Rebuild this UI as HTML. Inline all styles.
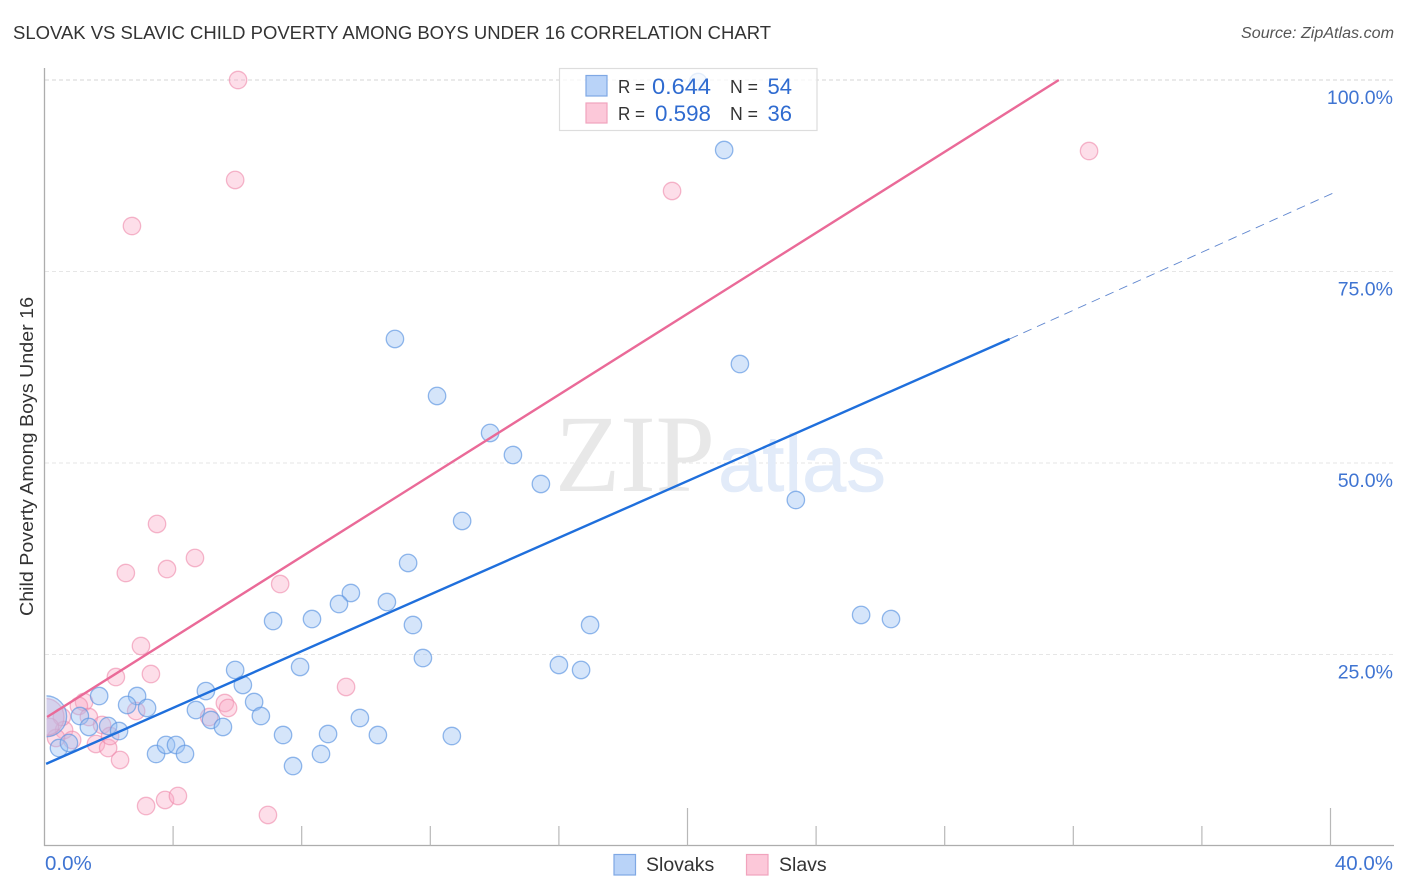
<!DOCTYPE html>
<html>
<head>
<meta charset="utf-8">
<title>Slovak vs Slavic Child Poverty Among Boys Under 16 Correlation Chart</title>
<style>
html,body{margin:0;padding:0;background:#fff;}
svg{display:block;font-family:"Liberation Sans",sans-serif;}
</style>
</head>
<body>
<svg id="chart" xmlns="http://www.w3.org/2000/svg" width="1406" height="892" viewBox="0 0 1406 892">
  <defs>
    <clipPath id="plot-clip"><rect x="45" y="68" width="1349" height="778"/></clipPath>
  </defs>
  <rect x="0" y="0" width="1406" height="892" fill="#fff"/>
  <text x="13" y="39" font-size="18.5" fill="#333" textLength="758" lengthAdjust="spacingAndGlyphs">SLOVAK VS SLAVIC CHILD POVERTY AMONG BOYS UNDER 16 CORRELATION CHART</text>
  <text x="1241" y="38" font-size="15.5" font-style="italic" fill="#555" textLength="153" lengthAdjust="spacingAndGlyphs">Source: ZipAtlas.com</text>
  <text transform="translate(33,616) rotate(-90)" font-size="18.5" fill="#333" textLength="319" lengthAdjust="spacingAndGlyphs">Child Poverty Among Boys Under 16</text>

  <g id="grid"></g>

  <g>
    <text x="555" y="491" font-family="'Liberation Serif',serif" font-size="110" fill="#e8e8e8" textLength="160" lengthAdjust="spacingAndGlyphs">ZIP</text>
    <text x="718" y="491" font-family="'Liberation Sans',sans-serif" font-size="80" fill="#e2ebf9" stroke="#e2ebf9" stroke-width="0.6" textLength="168" lengthAdjust="spacingAndGlyphs">atlas</text>
  </g>

  <g id="points" clip-path="url(#plot-clip)"></g>
  <rect x="0" y="680" width="46.5" height="75" fill="#fff"/>
  <g id="trends"></g>
  <g id="axes"></g>
  <g id="tick-labels"></g>

  <g>
    <rect x="559.5" y="68.5" width="257.5" height="62" fill="#fff" fill-opacity="0.76" stroke="#ddd" stroke-width="1.2"/>
    <rect x="586" y="75.5" width="21" height="20.5" fill="#b9d3f8" stroke="#7fa8e4" stroke-width="1.2"/>
    <rect x="586" y="103" width="21" height="20" fill="#fcc8d9" stroke="#f1a3bd" stroke-width="1.2"/>
    <text x="618" y="93" font-size="18" fill="#333" textLength="27" lengthAdjust="spacingAndGlyphs">R =</text>
    <text x="652" y="94" font-size="22" fill="#2f6bd0" textLength="59" lengthAdjust="spacingAndGlyphs">0.644</text>
    <text x="730" y="93" font-size="18" fill="#333" textLength="28" lengthAdjust="spacingAndGlyphs">N =</text>
    <text x="792" y="94" font-size="22" fill="#2f6bd0" text-anchor="end">54</text>
    <text x="618" y="120" font-size="18" fill="#333" textLength="27" lengthAdjust="spacingAndGlyphs">R =</text>
    <text x="655" y="121" font-size="22" fill="#2f6bd0" textLength="56" lengthAdjust="spacingAndGlyphs">0.598</text>
    <text x="730" y="120" font-size="18" fill="#333" textLength="28" lengthAdjust="spacingAndGlyphs">N =</text>
    <text x="792" y="121" font-size="22" fill="#2f6bd0" text-anchor="end">36</text>
  </g>

  <g>
    <rect x="614" y="854.5" width="21.5" height="20.5" fill="#b9d3f8" stroke="#7fa8e4" stroke-width="1.2"/>
    <text x="646" y="871" font-size="19.5" fill="#333">Slovaks</text>
    <rect x="746.5" y="854.5" width="21.5" height="20.5" fill="#fcc8d9" stroke="#f1a3bd" stroke-width="1.2"/>
    <text x="779" y="871" font-size="19.5" fill="#333">Slavs</text>
  </g>
</svg>
<script>
const slovakX = [10.90,12.21,13.86,14.57,15.44,12.99,11.31,9.53,9.16,10.65,8.32,7.11,11.46,11.77,7.95,5.93,6.17,5.02,2.88,1.70,2.57,3.19,4.71,6.52,6.73,5.18,5.55,1.10,1.38,1.98,2.32,7.42,8.82,9.81,10.37,12.67,8.60,7.73,3.47,3.78,4.09,4.37,0.45,0.76,21.14,20.33,21.63,23.37,25.40,26.33,16.97,16.00,16.69,0.05];
const slovakY = [66.19,58.75,53.92,51.04,47.26,42.43,36.95,33.03,31.59,31.85,29.63,29.37,28.85,24.54,23.37,22.98,21.02,20.23,19.58,19.58,18.41,18.02,17.75,18.80,16.97,16.45,15.54,16.97,15.54,15.67,15.01,14.49,14.62,16.71,14.49,14.36,12.01,10.44,12.01,13.19,13.19,12.01,12.79,13.45,90.86,99.74,62.92,45.17,30.16,29.63,28.85,23.63,22.98,16.93];

const slavX = [6.02,5.93,2.72,19.52,32.49,3.50,3.81,4.68,2.53,7.33,3.00,3.31,2.22,9.38,1.23,5.61,5.71,5.12,2.85,1.07,1.38,1.79,0.61,0.86,1.60,1.98,2.04,0.36,2.35,3.16,3.75,4.15,6.95,0.54,0.17,0.03];
const slavY = [100.00,86.95,80.94,85.51,90.73,42.04,36.16,37.60,35.64,34.20,26.11,22.45,22.06,20.76,18.80,18.67,18.02,16.84,17.62,18.28,16.84,15.80,15.14,13.84,13.32,12.79,14.36,14.10,11.23,5.22,6.01,6.53,4.05,16.84,15.54,16.84];

const slovakTrendX = [0.05,30.02];
const slovakTrendY = [10.72,66.19];
const slovakForecastX = [30.02,40.06];
const slovakForecastY = [66.19,85.20];
const slavTrendX = [0.08,31.55];
const slavTrendY = [16.84,100.00];

const xTickValues = [0,4,8,12,16,20,24,28,32,36,40];
const xMajorTicks = [0,20,40];
const yTickValues = [25,50,75,100];
const yTickLabels = ["25.0%","50.0%","75.0%","100.0%"];
const xEndLabels = ["0.0%","40.0%"];

const NS = "http://www.w3.org/2000/svg";
const xPx = function (v) { return 44.5 + v * 32.15; };
const yPx = function (v) { return 846 - v * 7.66; };
const make = function (tag, parent, attrs) {
  const el = document.createElementNS(NS, tag);
  Object.keys(attrs).forEach(function (k) { el.setAttribute(k, attrs[k]); });
  parent.appendChild(el);
  return el;
};

const grid = document.getElementById("grid");
yTickValues.forEach(function (v) {
  const el = make("line", grid, {
    x1: 45, x2: 1394, y1: yPx(v), y2: yPx(v),
    stroke: v === 100 ? "#d4d4d4" : "#e6e6e6",
    "stroke-width": 1, "stroke-dasharray": "4 3"
  });
  
  
});

const points = document.getElementById("points");
const POINT_R = 8.7;
const lastSlav = slavX.length - 1;
const lastSlovak = slovakX.length - 1;
slavX.forEach(function (x, i) {
  const el = make("circle", points, {
    cx: xPx(x), cy: yPx(slavY[i]), r: i === lastSlav ? 18.5 : POINT_R,
    fill: "#f9a8c4", "fill-opacity": 0.38, stroke: "#ee88aa", "stroke-opacity": 0.6, "stroke-width": 1.3
  });
  
  
});
slovakX.forEach(function (x, i) {
  const el = make("circle", points, {
    cx: xPx(x), cy: yPx(slovakY[i]), r: i === lastSlovak ? 20.5 : POINT_R,
    fill: "#9cc0f2", "fill-opacity": 0.42, stroke: "#5f96e2", "stroke-opacity": 0.68, "stroke-width": 1.3
  });
  
  
});

const trends = document.getElementById("trends");
const slavLine = make("line", trends, {
  x1: xPx(slavTrendX[0]), y1: yPx(slavTrendY[0]), x2: xPx(slavTrendX[1]), y2: yPx(slavTrendY[1]),
  stroke: "#ea6a98", "stroke-width": 2.4
});


const slovakLine = make("line", trends, {
  x1: xPx(slovakTrendX[0]), y1: yPx(slovakTrendY[0]), x2: xPx(slovakTrendX[1]), y2: yPx(slovakTrendY[1]),
  stroke: "#1f6fdc", "stroke-width": 2.4
});


const slovakDash = make("line", trends, {
  x1: xPx(slovakForecastX[0]), y1: yPx(slovakForecastY[0]), x2: xPx(slovakForecastX[1]), y2: yPx(slovakForecastY[1]),
  stroke: "#5f86cf", "stroke-width": 0.9, "stroke-dasharray": "9 6"
});



const axes = document.getElementById("axes");
const yAxis = make("line", axes, { x1: 44.5, x2: 44.5, y1: 68, y2: 846, stroke: "#adadad", "stroke-width": 1.3 });


const xAxis = make("line", axes, { x1: 44, x2: 1394, y1: 845.5, y2: 845.5, stroke: "#adadad", "stroke-width": 1.3 });


xTickValues.forEach(function (v) {
  if (v === 0) return;
  const major = xMajorTicks.indexOf(v) >= 0;
  const el = make("line", axes, {
    x1: xPx(v), x2: xPx(v), y1: 845.5, y2: major ? 808 : 826,
    stroke: "#b8b8b8", "stroke-width": 1.2
  });
  
  
});

const tickLabels = document.getElementById("tick-labels");
yTickValues.forEach(function (v, i) {
  const el = make("text", tickLabels, {
    x: 1393, y: yPx(v) + 24, "font-size": 19.5, fill: "#3f74d2", "text-anchor": "end"
  });
  el.textContent = yTickLabels[i];
  
  
});
const xStart = make("text", tickLabels, { x: 45, y: 870, "font-size": 20.5, fill: "#3f74d2" });
xStart.textContent = xEndLabels[0];


const xEnd = make("text", tickLabels, { x: 1393, y: 870, "font-size": 20.5, fill: "#3f74d2", "text-anchor": "end" });
xEnd.textContent = xEndLabels[1];


</script>
</body>
</html>
